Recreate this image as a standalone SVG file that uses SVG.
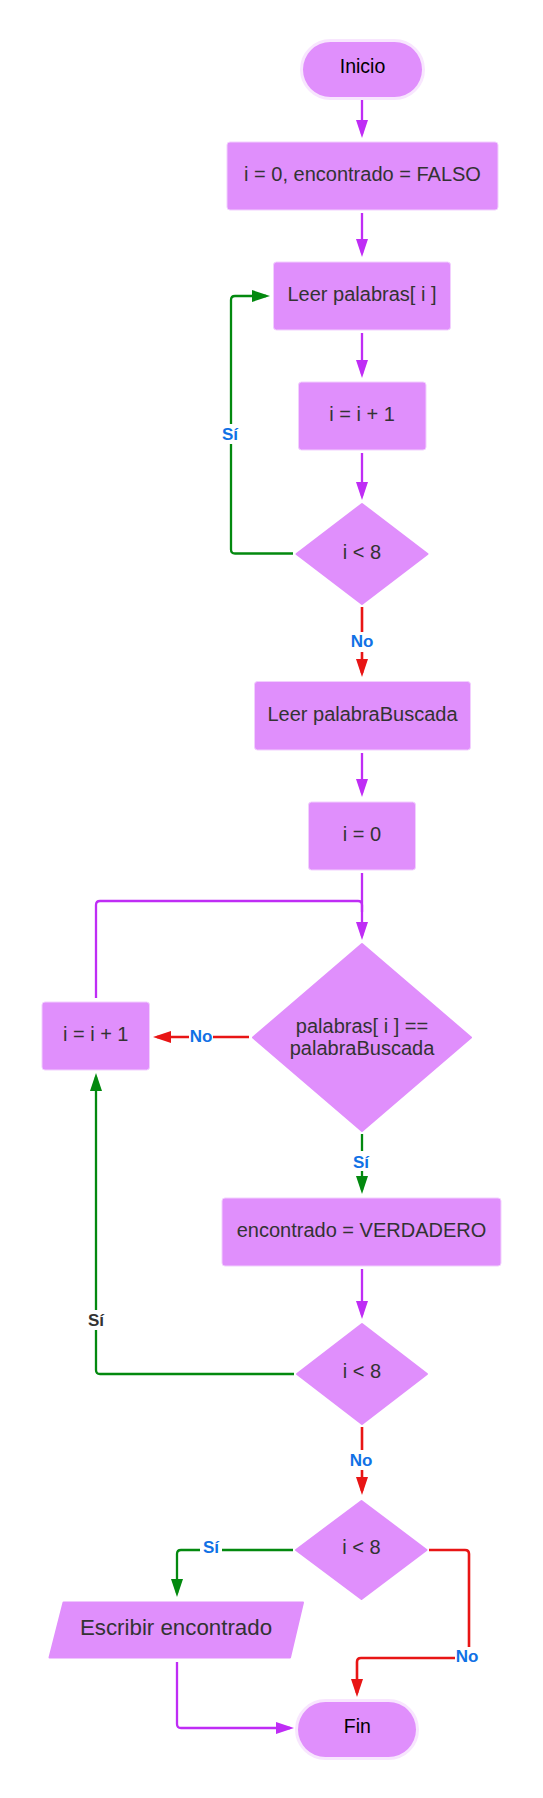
<svg xmlns="http://www.w3.org/2000/svg" width="543" height="1798" viewBox="0 0 543 1798">
<style>
.n{fill:#E08FFC;stroke:#F2CFFE;stroke-width:1}
.d{fill:#E08FFC;stroke:#E08FFC;stroke-width:2;stroke-linejoin:round}
.t{fill:#F8E6FE;stroke:#F8E6FE;stroke-width:6}
.tx{font-family:"Liberation Sans",Arial,sans-serif;font-size:20px;fill:#333333;text-anchor:middle}
.tt{font-family:"Liberation Sans",Arial,sans-serif;font-size:19.5px;fill:#000000;text-anchor:middle}
.lb{font-family:"Liberation Sans",Arial,sans-serif;font-size:17px;font-weight:bold;fill:#1071E5;text-anchor:middle}
.bg{fill:#FFFFFF}
.p{fill:none;stroke:#BF2DF5;stroke-width:2.3}
.g{fill:none;stroke:#03890F;stroke-width:2.3}
.r{fill:none;stroke:#E81515;stroke-width:2.6}
</style>
<defs>
<marker id="ap" markerUnits="userSpaceOnUse" markerWidth="20" markerHeight="14" refX="14" refY="6" orient="auto"><path d="M0,0 L18,6 L0,12 z" fill="#BF2DF5"/></marker>
<marker id="ag" markerUnits="userSpaceOnUse" markerWidth="20" markerHeight="14" refX="14" refY="6" orient="auto"><path d="M0,0 L18,6 L0,12 z" fill="#03890F"/></marker>
<marker id="ar" markerUnits="userSpaceOnUse" markerWidth="20" markerHeight="14" refX="14" refY="6" orient="auto"><path d="M0,0 L18,6 L0,12 z" fill="#E81515"/></marker>
</defs>
<rect width="543" height="1798" fill="#FFFFFF"/>

<g id="connectors">
<path class="p" d="M362,100 V134" marker-end="url(#ap)"/>
<path class="p" d="M362,213 V253" marker-end="url(#ap)"/>
<path class="p" d="M362,333 V374" marker-end="url(#ap)"/>
<path class="p" d="M362,453 V496" marker-end="url(#ap)"/>
<path class="g" d="M293,553.5 H235 Q231,553.5 231,549.5 V300 Q231,296 235,296 H266" marker-end="url(#ag)"/>
<path class="r" d="M362,607 V673" marker-end="url(#ar)"/>
<path class="p" d="M362,753 V793" marker-end="url(#ap)"/>
<path class="p" d="M362,873 V936" marker-end="url(#ap)"/>
<path class="p" d="M96,998 V905 Q96,901 100,901 H358 Q362,901 362,905 V912"/>
<path class="r" d="M249,1037 H157" marker-end="url(#ar)"/>
<path class="g" d="M362,1134 V1190" marker-end="url(#ag)"/>
<path class="p" d="M362,1269 V1315" marker-end="url(#ap)"/>
<path class="g" d="M294,1374 H100 Q96,1374 96,1370 V1077" marker-end="url(#ag)"/>
<path class="r" d="M362,1427 V1491" marker-end="url(#ar)"/>
<path class="g" d="M293,1550 H181 Q177,1550 177,1554 V1593" marker-end="url(#ag)"/>
<path class="r" d="M429,1550 H465 Q469,1550 469,1554 V1654 Q469,1658 465,1658 H361 Q357,1658 357,1662 V1693" marker-end="url(#ar)"/>
<path class="p" d="M177,1662 V1724 Q177,1728 181,1728 H290" marker-end="url(#ap)"/>

<rect class="bg" x="219" y="424" width="24" height="20"/>
<text class="lb" x="230" y="440">Sí</text>
<rect class="bg" x="349" y="632" width="26" height="20"/>
<text class="lb" x="362" y="647">No</text>
<rect class="bg" x="189" y="1028" width="24" height="18"/>
<text class="lb" x="201" y="1042">No</text>
<rect class="bg" x="349" y="1151" width="24" height="20"/>
<text class="lb" x="361" y="1168">Sí</text>
<rect class="bg" x="84" y="1310" width="24" height="20"/>
<text class="lb" x="96" y="1326" style="fill:#333333">Sí</text>
<rect class="bg" x="348" y="1450" width="26" height="20"/>
<text class="lb" x="361" y="1466">No</text>
<rect class="bg" x="200" y="1539" width="22" height="18"/>
<text class="lb" x="211" y="1553">Sí</text>
<rect class="bg" x="455" y="1647" width="24" height="18"/>
<text class="lb" x="467" y="1662">No</text>
</g>

<g id="inicio">
<rect class="t" x="303" y="42" width="119" height="55" rx="27.5"/>
<rect x="303" y="42" width="119" height="55" rx="27.5" fill="#E08FFC"/>
<text class="tt" x="362.5" y="73.3">Inicio</text>
</g>
<g id="init">
<rect class="n" x="227" y="142" width="271" height="68" rx="3"/>
<text class="tx" x="362.5" y="181">i = 0, encontrado = FALSO</text>
</g>
<g id="leer-palabras">
<rect class="n" x="273.5" y="262" width="177" height="68" rx="3"/>
<text class="tx" x="362" y="301">Leer palabras[ i ]</text>
</g>
<g id="inc1">
<rect class="n" x="298.5" y="382" width="127.5" height="68" rx="3"/>
<text class="tx" x="362" y="421">i = i + 1</text>
</g>
<g id="cond1">
<polygon class="d" points="362,504 427.5,554 362,604 296.5,554"/>
<text class="tx" x="362" y="558.5">i &lt; 8</text>
</g>
<g id="leer-buscada">
<rect class="n" x="254.5" y="681.5" width="216" height="68.5" rx="3"/>
<text class="tx" x="362.5" y="720.7">Leer palabraBuscada</text>
</g>
<g id="reset">
<rect class="n" x="308.5" y="802" width="107" height="68" rx="3"/>
<text class="tx" x="362" y="840.7">i = 0</text>
</g>
<g id="cond2">
<polygon class="d" points="362,944 471,1037.5 362,1131 253,1037.5"/>
<text class="tx" x="362" y="1032.5">palabras[ i ] ==</text>
<text class="tx" x="362" y="1055">palabraBuscada</text>
</g>
<g id="inc2">
<rect class="n" x="42" y="1002" width="107.5" height="68" rx="3"/>
<text class="tx" x="95.7" y="1040.7">i = i + 1</text>
</g>
<g id="found">
<rect class="n" x="222" y="1198" width="279" height="68" rx="3"/>
<text class="tx" x="361.5" y="1236.7">encontrado = VERDADERO</text>
</g>
<g id="cond3">
<polygon class="d" points="362,1324 427,1374 362,1424 297,1374"/>
<text class="tx" x="362" y="1378.3">i &lt; 8</text>
</g>
<g id="cond4">
<polygon class="d" points="361.5,1501 426.5,1550 361.5,1599 296,1550"/>
<text class="tx" x="361.5" y="1554.3">i &lt; 8</text>
</g>
<g id="escribir">
<polygon class="d" points="63.5,1602.5 303,1602.5 290,1657.5 49.5,1657.5"/>
<text class="tx" x="176" y="1635" style="font-size:22.3px">Escribir encontrado</text>
</g>
<g id="fin">
<rect class="t" x="298" y="1702" width="118" height="55" rx="27.5"/>
<rect x="298" y="1702" width="118" height="55" rx="27.5" fill="#E08FFC"/>
<text class="tt" x="357.3" y="1733.3">Fin</text>
</g>
</svg>
